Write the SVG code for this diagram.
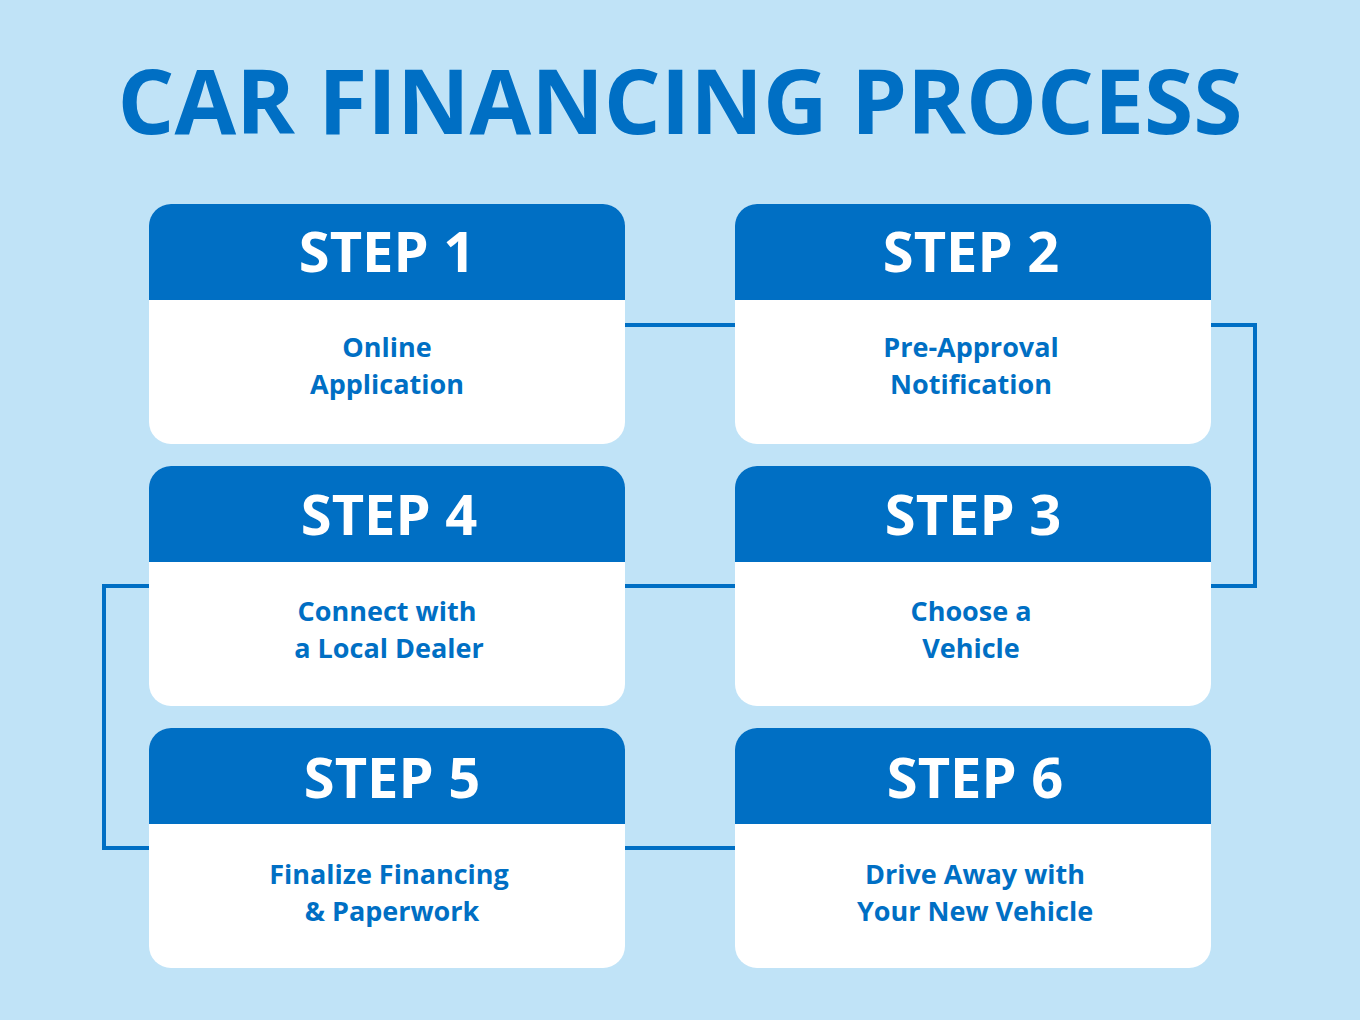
<svg xmlns="http://www.w3.org/2000/svg" width="1360" height="1020" viewBox="0 0 1360 1020">
<style>
.card{fill:#fff}
.hd{fill:#006FC4}
.st{font-family:"Open Sans","Liberation Sans",sans-serif;font-weight:bold;font-size:56px;fill:#fff;text-anchor:middle}
.bd{font-family:"Open Sans","Liberation Sans",sans-serif;font-weight:bold;font-size:27px;fill:#006FC4;text-anchor:middle}
.cn{fill:none;stroke:#006FC4;stroke-width:4}
</style>
<rect width="1360" height="1020" fill="#C0E3F7"/>
<text x="680" y="134" font-family="Open Sans,Liberation Sans,sans-serif" font-weight="bold" font-size="90" fill="#006FC4" text-anchor="middle" textLength="1125" lengthAdjust="spacingAndGlyphs">CAR FINANCING PROCESS</text>
<g id="connectors">
<path class="cn" d="M625 325H735"/>
<path class="cn" d="M1211 325H1255V586H1211"/>
<path class="cn" d="M625 586H735"/>
<path class="cn" d="M149 586H104V848H149"/>
<path class="cn" d="M625 848H735"/>
</g>
<g id="step1">
<rect class="card" x="149" y="204" width="476" height="240" rx="22"/>
<path class="hd" d="M149 300V226A22 22 0 0 1 171 204H603A22 22 0 0 1 625 226V300Z"/>
<text class="st" x="387" y="272">STEP 1</text>
<text class="bd" x="387" y="357">Online</text><text class="bd" x="387" y="394">Application</text>
</g>
<g id="step2">
<rect class="card" x="735" y="204" width="476" height="240" rx="22"/>
<path class="hd" d="M735 300V226A22 22 0 0 1 757 204H1189A22 22 0 0 1 1211 226V300Z"/>
<text class="st" x="971" y="272">STEP 2</text>
<text class="bd" x="971" y="357">Pre-Approval</text><text class="bd" x="971" y="394">Notification</text>
</g>
<g id="step3">
<rect class="card" x="735" y="466" width="476" height="240" rx="22"/>
<path class="hd" d="M735 562V488A22 22 0 0 1 757 466H1189A22 22 0 0 1 1211 488V562Z"/>
<text class="st" x="973" y="535">STEP 3</text>
<text class="bd" x="971" y="621">Choose a</text><text class="bd" x="971" y="658">Vehicle</text>
</g>
<g id="step4">
<rect class="card" x="149" y="466" width="476" height="240" rx="22"/>
<path class="hd" d="M149 562V488A22 22 0 0 1 171 466H603A22 22 0 0 1 625 488V562Z"/>
<text class="st" x="389" y="535">STEP 4</text>
<text class="bd" x="387" y="621">Connect with</text><text class="bd" x="389" y="658">a Local Dealer</text>
</g>
<g id="step5">
<rect class="card" x="149" y="728" width="476" height="240" rx="22"/>
<path class="hd" d="M149 824V750A22 22 0 0 1 171 728H603A22 22 0 0 1 625 750V824Z"/>
<text class="st" x="392" y="798">STEP 5</text>
<text class="bd" x="389" y="884">Finalize Financing</text><text class="bd" x="392" y="921">&amp; Paperwork</text>
</g>
<g id="step6">
<rect class="card" x="735" y="728" width="476" height="240" rx="22"/>
<path class="hd" d="M735 824V750A22 22 0 0 1 757 728H1189A22 22 0 0 1 1211 750V824Z"/>
<text class="st" x="975" y="798">STEP 6</text>
<text class="bd" x="975" y="884">Drive Away with</text><text class="bd" x="975" y="921">Your New Vehicle</text>
</g>
</svg>
